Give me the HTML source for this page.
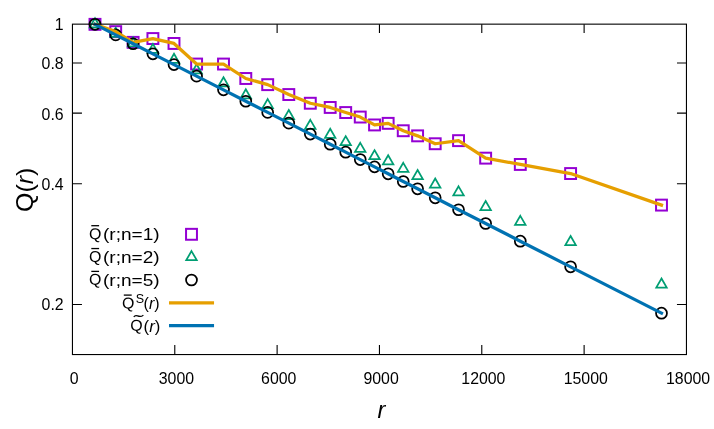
<!DOCTYPE html>
<html><head><meta charset="utf-8"><title>Q(r)</title>
<style>
html,body{margin:0;padding:0;background:#fff;}
body{width:714px;height:429px;overflow:hidden;position:relative;}
svg{display:block;position:absolute;left:0;top:0;will-change:transform;}
svg.t{filter:grayscale(1);}
text{font-family:"Liberation Sans",sans-serif;fill:#000;}
</style></head><body>
<svg width="714" height="429" viewBox="0 0 714 429">
<rect x="0" y="0" width="714" height="429" fill="#fff"/>
<g stroke="#000" stroke-width="1.1" fill="none" stroke-linecap="butt">
<path d="M72.45,63.01 h9.5 M686.45,63.01 h-9.5"/>
<path d="M72.45,113.11 h9.5 M686.45,113.11 h-9.5"/>
<path d="M72.45,183.73 h9.5 M686.45,183.73 h-9.5"/>
<path d="M72.45,304.45 h9.5 M686.45,304.45 h-9.5"/>
<path d="M174.78,354.55 v-9.5 M174.78,24.15 v8.9"/>
<path d="M277.12,354.55 v-9.5 M277.12,24.15 v8.9"/>
<path d="M379.45,354.55 v-9.5 M379.45,24.15 v8.9"/>
<path d="M481.78,354.55 v-9.5 M481.78,24.15 v8.9"/>
<path d="M584.12,354.55 v-9.5 M584.12,24.15 v8.9"/>
</g>
<g fill="none" stroke-width="2.0" stroke-linejoin="miter">
<g stroke="#9400D3"><rect x="89.55" y="18.89" width="10.90" height="10.90"/><rect x="110.25" y="26.20" width="10.90" height="10.90"/><rect x="127.65" y="36.90" width="10.90" height="10.90"/><rect x="147.45" y="33.10" width="10.90" height="10.90"/><rect x="168.55" y="38.00" width="10.90" height="10.90"/><rect x="191.15" y="58.60" width="10.90" height="10.90"/><rect x="218.05" y="58.60" width="10.90" height="10.90"/><rect x="240.35" y="73.05" width="10.90" height="10.90"/><rect x="262.25" y="79.20" width="10.90" height="10.90"/><rect x="283.35" y="89.10" width="10.90" height="10.90"/><rect x="304.85" y="97.80" width="10.90" height="10.90"/><rect x="324.75" y="102.00" width="10.90" height="10.90"/><rect x="340.25" y="107.10" width="10.90" height="10.90"/><rect x="354.80" y="111.60" width="10.90" height="10.90"/><rect x="369.10" y="119.50" width="10.90" height="10.90"/><rect x="382.70" y="117.90" width="10.90" height="10.90"/><rect x="397.80" y="125.30" width="10.90" height="10.90"/><rect x="412.15" y="130.40" width="10.90" height="10.90"/><rect x="429.75" y="138.30" width="10.90" height="10.90"/><rect x="453.10" y="135.20" width="10.90" height="10.90"/><rect x="480.20" y="152.70" width="10.90" height="10.90"/><rect x="514.85" y="159.00" width="10.90" height="10.90"/><rect x="565.15" y="168.10" width="10.90" height="10.90"/><rect x="656.05" y="199.65" width="10.90" height="10.90"/><rect x="186.05" y="228.85" width="10.90" height="10.90"/></g>
<g stroke="#009E73" stroke-width="1.75"><path d="M95.00,18.29 L100.24,27.36 L89.76,27.36 Z"/><path d="M115.70,27.80 L120.94,36.88 L110.46,36.88 Z"/><path d="M133.10,37.40 L138.34,46.48 L127.86,46.48 Z"/><path d="M152.90,43.90 L158.14,52.98 L147.66,52.98 Z"/><path d="M174.00,53.80 L179.24,62.88 L168.76,62.88 Z"/><path d="M196.60,64.30 L201.84,73.38 L191.36,73.38 Z"/><path d="M223.50,77.30 L228.74,86.38 L218.26,86.38 Z"/><path d="M245.80,89.30 L251.04,98.38 L240.56,98.38 Z"/><path d="M267.70,99.10 L272.94,108.17 L262.46,108.17 Z"/><path d="M288.80,109.95 L294.04,119.03 L283.56,119.03 Z"/><path d="M310.30,119.85 L315.54,128.93 L305.06,128.93 Z"/><path d="M330.20,128.75 L335.44,137.83 L324.96,137.83 Z"/><path d="M345.70,136.15 L350.94,145.22 L340.46,145.22 Z"/><path d="M360.25,142.85 L365.49,151.93 L355.01,151.93 Z"/><path d="M374.55,150.15 L379.79,159.22 L369.31,159.22 Z"/><path d="M388.15,155.25 L393.39,164.33 L382.91,164.33 Z"/><path d="M403.25,162.85 L408.49,171.93 L398.01,171.93 Z"/><path d="M417.60,170.05 L422.84,179.12 L412.36,179.12 Z"/><path d="M435.20,178.45 L440.44,187.53 L429.96,187.53 Z"/><path d="M458.55,186.35 L463.79,195.43 L453.31,195.43 Z"/><path d="M485.65,201.05 L490.89,210.12 L480.41,210.12 Z"/><path d="M520.30,215.85 L525.54,224.93 L515.06,224.93 Z"/><path d="M570.60,235.95 L575.84,245.03 L565.36,245.03 Z"/><path d="M661.50,278.55 L666.74,287.62 L656.26,287.62 Z"/><path d="M191.50,251.10 L196.74,260.17 L186.26,260.17 Z"/></g>
<g stroke="#000" stroke-width="1.75"><circle cx="95.00" cy="24.34" r="5.45"/><circle cx="115.70" cy="34.89" r="5.45"/><circle cx="133.10" cy="43.77" r="5.45"/><circle cx="152.90" cy="53.86" r="5.45"/><circle cx="174.00" cy="64.62" r="5.45"/><circle cx="196.60" cy="76.14" r="5.45"/><circle cx="223.50" cy="89.86" r="5.45"/><circle cx="245.80" cy="101.23" r="5.45"/><circle cx="267.70" cy="112.39" r="5.45"/><circle cx="288.80" cy="123.15" r="5.45"/><circle cx="310.30" cy="134.12" r="5.45"/><circle cx="330.20" cy="144.26" r="5.45"/><circle cx="345.70" cy="152.16" r="5.45"/><circle cx="360.25" cy="159.58" r="5.45"/><circle cx="374.55" cy="166.87" r="5.45"/><circle cx="388.15" cy="173.81" r="5.45"/><circle cx="403.25" cy="181.51" r="5.45"/><circle cx="417.60" cy="188.82" r="5.45"/><circle cx="435.20" cy="197.80" r="5.45"/><circle cx="458.55" cy="209.70" r="5.45"/><circle cx="485.65" cy="223.52" r="5.45"/><circle cx="520.30" cy="241.19" r="5.45"/><circle cx="570.60" cy="266.83" r="5.45"/><circle cx="661.50" cy="313.18" r="5.45"/><circle cx="191.50" cy="280.00" r="5.45"/></g>
</g>
<g fill="none" stroke-width="3.25" stroke-linejoin="round" stroke-linecap="butt">
<polyline stroke-linecap="square" stroke="#E69F00" points="95.00,24.34 115.70,31.65 133.10,42.35 152.90,38.55 174.00,43.45 196.60,64.05 223.50,64.05 245.80,78.50 267.70,84.65 288.80,94.55 310.30,103.25 330.20,107.45 345.70,112.55 360.25,117.05 374.55,124.95 388.15,123.35 403.25,130.75 417.60,135.85 435.20,143.75 458.55,140.65 485.65,158.15 520.30,164.45 570.60,173.55 661.50,205.10"/>
<path stroke="#E69F00" d="M169,302.85 H214.05"/>
<polyline stroke-linecap="square" stroke="#0072B2" points="95.00,24.34 115.70,34.89 133.10,43.77 152.90,53.86 174.00,64.62 196.60,76.14 223.50,89.86 245.80,101.23 267.70,112.39 288.80,123.15 310.30,134.12 330.20,144.26 345.70,152.16 360.25,159.58 374.55,166.87 388.15,173.81 403.25,181.51 417.60,188.82 435.20,197.80 458.55,209.70 485.65,223.52 520.30,241.19 570.60,266.83 661.50,313.18"/>
<path stroke="#0072B2" d="M169,325.7 H214.05"/>
</g>
<rect x="72.45" y="24.15" width="614.00" height="330.40" fill="none" stroke="#000" stroke-width="1.1"/>
</svg>
<svg class="t" width="714" height="429" viewBox="0 0 714 429">
<text transform="translate(63.65,30.35) scale(0.945,1.0)" font-size="16.8px" text-anchor="end">1</text>
<text transform="translate(63.65,69.41) scale(0.945,1.0)" font-size="16.8px" text-anchor="end">0.8</text>
<text transform="translate(63.65,119.61) scale(0.945,1.0)" font-size="16.8px" text-anchor="end">0.6</text>
<text transform="translate(63.65,189.98) scale(0.945,1.0)" font-size="16.8px" text-anchor="end">0.4</text>
<text transform="translate(63.65,310.30) scale(0.945,1.0)" font-size="16.8px" text-anchor="end">0.2</text>
<text transform="translate(74.05,383.90) scale(0.945,1.0)" font-size="16.8px" text-anchor="middle">0</text>
<text transform="translate(176.38,383.90) scale(0.945,1.0)" font-size="16.8px" text-anchor="middle">3000</text>
<text transform="translate(278.72,383.90) scale(0.945,1.0)" font-size="16.8px" text-anchor="middle">6000</text>
<text transform="translate(381.05,383.90) scale(0.945,1.0)" font-size="16.8px" text-anchor="middle">9000</text>
<text transform="translate(483.38,383.90) scale(0.945,1.0)" font-size="16.8px" text-anchor="middle">12000</text>
<text transform="translate(585.72,383.90) scale(0.945,1.0)" font-size="16.8px" text-anchor="middle">15000</text>
<text transform="translate(688.05,383.90) scale(0.945,1.0)" font-size="16.8px" text-anchor="middle">18000</text>
<text transform="translate(33.40,189.75) rotate(-90) scale(1.04,1)" font-size="24px" text-anchor="middle">Q(<tspan font-style="italic">r</tspan>)</text>
<text transform="translate(381.30,417.80)" font-size="23.5px" text-anchor="middle" font-style="italic">r</text>
<text transform="translate(89.00,239.15) rotate(0.3) scale(0.96,0.95)" font-size="16.6px" text-anchor="start">Q</text>
<text transform="translate(159.60,239.80) scale(1.19,1.0)" font-size="16px" text-anchor="end">(r;n=1)</text>
<path d="M91.3,225.70 H99.1" stroke="#000" stroke-width="1.3" fill="none"/>
<text transform="translate(89.00,262.00) rotate(0.3) scale(0.96,0.95)" font-size="16.6px" text-anchor="start">Q</text>
<text transform="translate(159.60,262.65) scale(1.19,1.0)" font-size="16px" text-anchor="end">(r;n=2)</text>
<path d="M91.3,248.55 H99.1" stroke="#000" stroke-width="1.3" fill="none"/>
<text transform="translate(89.00,284.85) rotate(0.3) scale(0.96,0.95)" font-size="16.6px" text-anchor="start">Q</text>
<text transform="translate(159.60,285.50) scale(1.19,1.0)" font-size="16px" text-anchor="end">(r;n=5)</text>
<path d="M91.3,271.40 H99.1" stroke="#000" stroke-width="1.3" fill="none"/>
<text transform="translate(122.10,308.55) rotate(0.3) scale(0.96,0.95)" font-size="16.6px" text-anchor="start">Q</text>
<path d="M123.8,295.10 H131.7" stroke="#000" stroke-width="1.3" fill="none"/>
<text transform="translate(135.80,303.15) scale(0.98,1.0)" font-size="12.8px" text-anchor="start">S</text>
<text transform="translate(143.60,309.20)" font-size="16px" text-anchor="start">(<tspan font-style="italic">r</tspan>)</text>
<text transform="translate(130.30,330.85) rotate(0.3) scale(0.96,0.95)" font-size="16.6px" text-anchor="start">Q</text>
<path d="M133.8,317.00 C134.6,315.60 136.0,315.20 137.6,315.90 S141.2,317.00 143.4,315.10" stroke="#000" stroke-width="1.25" fill="none"/>
<text transform="translate(143.60,331.50) scale(1.05,1.0)" font-size="16px" text-anchor="start">(<tspan font-style="italic">r</tspan>)</text>
</svg></body></html>
